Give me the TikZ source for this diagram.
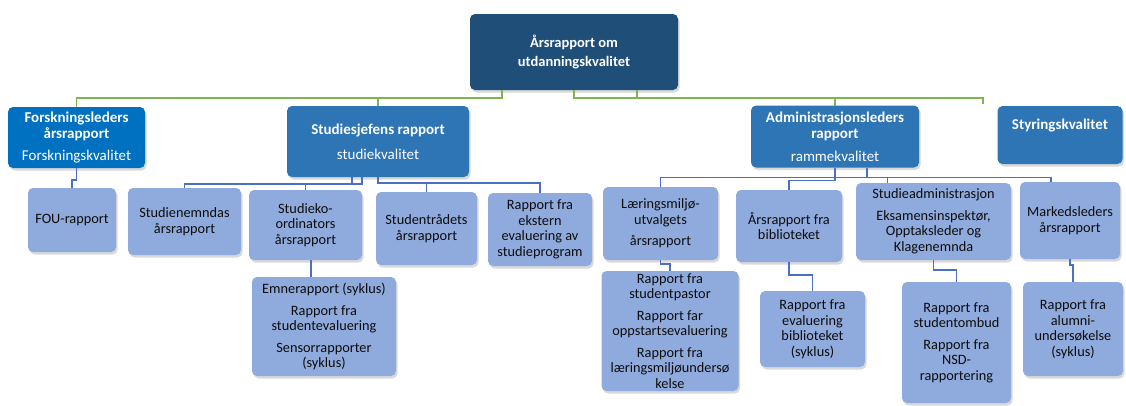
\documentclass[tikz,border=0pt]{standalone}
\usepackage{fontspec}
\setmainfont{Carlito}
\usepackage{tikz}
\usetikzlibrary{shadows}
\definecolor{rootblue}{HTML}{1F4E79}
\definecolor{forskblue}{HTML}{0070C0}
\definecolor{headblue}{HTML}{2E75B6}
\definecolor{subblue}{HTML}{8FAADC}
\definecolor{lgreen}{HTML}{7DB552}
\definecolor{lblue}{HTML}{4A6FC4}

\begin{document}
\begin{tikzpicture}[
				x=1pt, y=-1pt,
				box/.style = {rounded corners=5pt, align=center, inner sep=2pt, outer sep=0pt,
					drop shadow={shadow xshift=1.5pt, shadow yshift=-2.5pt, opacity=.3}},
				rootbox/.style = {box, fill=rootblue, text=white, font=\fontsize{14.5}{19}\selectfont\bfseries},
				headbox/.style = {box, fill=headblue, text=white, font=\fontsize{15}{16}\selectfont},
				subbox/.style = {box, fill=subblue, text=black!95, font=\fontsize{14.3}{15.5}\selectfont},
				gline/.style = {draw=lgreen, line width=1.2pt},
				bline/.style = {draw=lblue, line width=1.1pt}
			]
				\useasboundingbox (0,0) rectangle (1126,405);
				%
				\node (n1) [rootbox, minimum width=208pt, minimum height=76pt] at (574,52) {Årsrapport om\\utdanningskvalitet};
				%
				\node (n11) [headbox, fill=forskblue, minimum width=137pt, minimum height=61pt] at (76.5,137.5)
					{\textbf{Forskningsleders}\\\textbf{årsrapport}\\[6pt]Forskningskvalitet};
				\node (n12) [headbox, minimum width=182pt, minimum height=71pt] at (378,141.5)
					{\textbf{Studiesjefens rapport}\\[9pt]studiekvalitet};
				\node (n13) [headbox, minimum width=168pt, minimum height=62pt] at (835,136.5)
					{\textbf{Administrasjonsleders}\\\textbf{rapport}\\[7pt]rammekvalitet};
				\node (n14) [headbox, minimum width=125pt, minimum height=58pt] at (1060,135)
					{\textbf{Styringskvalitet}\\[6pt]~};
				\coordinate (s14) at (983,104);
				%
				\node (n21) [subbox, minimum width=88pt, minimum height=64pt] at (72,220) {FOU-rapport};
				\node (n22) [subbox, minimum width=113pt, minimum height=67pt] at (184.5,221.5) {Studienemndas\\årsrapport};
				\node (n23) [subbox, minimum width=113pt, minimum height=70pt] at (305.5,225) {Studieko-\\ordinators\\årsrapport};
				\node (n24) [subbox, minimum width=101pt, minimum height=73pt] at (426.5,228.5) {Studentrådets\\årsrapport};
				\node (n25) [subbox, minimum width=104pt, minimum height=73pt] at (540,229.5) {Rapport fra\\ekstern\\evaluering av\\studieprogram};
				\node (n26) [subbox, minimum width=115pt, minimum height=73pt] at (660.5,223.5) {Læringsmiljø-\\utvalgets\\[6pt]årsrapport};
				\node (n27) [subbox, minimum width=106pt, minimum height=72pt] at (789,226) {Årsrapport fra\\biblioteket};
				\node (n28) [subbox, minimum width=155pt, minimum height=77pt] at (933.5,221.5)
					{Studieadministrasjon\\[6pt]Eksamensinspektør,\\Opptaksleder og\\Klagenemnda};
				\node (n29) [subbox, minimum width=100pt, minimum height=77pt] at (1070,220.5) {Markedsleders\\årsrapport};
				%
				\node (n31) [subbox, minimum width=144pt, minimum height=99pt] at (324,326.5)
					{Emnerapport (syklus)\\[6pt]Rapport fra\\studentevaluering\\[6pt]Sensorrapporter\\(syklus)};
				\node (n32) [subbox, minimum width=137pt, minimum height=120pt] at (670,331)
					{Rapport fra\\studentpastor\\[6pt]Rapport far\\oppstartsevaluering\\[6pt]Rapport fra\\læringsmiljøundersø\\kelse};
				\node (n33) [subbox, minimum width=105pt, minimum height=76pt] at (812.5,329) {Rapport fra\\evaluering\\biblioteket\\(syklus)};
				\node (n34) [subbox, minimum width=109pt, minimum height=121pt] at (956.5,342.5)
					{Rapport fra\\studentombud\\[6pt]Rapport fra\\NSD-\\rapportering};
				\node (n35) [subbox, minimum width=100pt, minimum height=94pt] at (1073,329) {Rapport fra\\alumni-\\undersøkelse\\(syklus)};

				% green lines from the top
				\draw[gline] ([xshift=-72pt]n1.south) -- ++(0,8) -| (n11.north);
				\draw[gline] ([xshift=-72pt]n1.south) -- ++(0,8) -| (n12.north);
				\draw[gline] (n1.south) -- ++(0,8) -| (n13.north);
				\draw[gline] ([xshift=63pt]n1.south) -- ++(0,8) -| (s14);
				%
				\draw[bline] (n11.south) -- ++(0,12) -| (n21.north);
				\draw[bline] ([xshift=-26pt]n12.south) -- ++(0,7) -| (n22.north);
				\draw[bline] ([xshift=-16pt]n12.south) -- ++(0,7) -| (n23.north);
				\draw[bline] (n12.south) -- ++(0,6) -| (n24.north);
				\draw[bline] (n12.south) -- ++(0,6) -| (n25.north);
				%
				\draw[bline] ([xshift=32pt]n13.south) -- ++(0,10) -| (n26.north);
				\draw[bline] (n13.south) -- ++(0,13) -| (n27.north);
				\draw[bline] ([xshift=32pt]n13.south) -- ++(0,10) -| ([xshift=-46pt]n28.north);
				\draw[bline] ([xshift=32pt]n13.south) -- ++(0,10) -| ([xshift=-19pt]n29.north);
				%
				\draw[bline] ([xshift=5.5pt]n23.south) -- ([xshift=5.5pt]n23.south |- n31.north);
				\draw[bline] (n26.south) -- ++(0,4) -| (n32.north);
				\draw[bline] (n27.south) -- ++(0,13) -| (n33.north);
				\draw[bline] (n28.south) -- ++(0,10) -| (n34.north);
				\draw[bline] (n29.south) -- ++(0,6) -| (n35.north);

			\end{tikzpicture}
\end{document}
